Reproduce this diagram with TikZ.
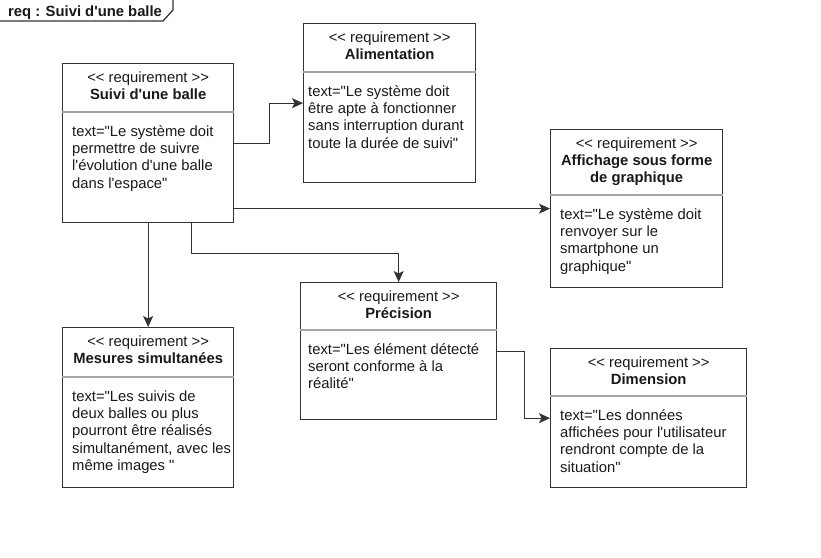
\documentclass[tikz,border=0pt]{standalone}
\usepackage{fontspec}
\usepackage{tikz}
\usetikzlibrary{arrows.meta, positioning, calc}
\newfontfamily\reqfam{Liberation Sans}
\newcommand{\reqfont}{\reqfam\fontsize{14.8}{17.3}\selectfont}
\tikzstyle{reqbox} = [rectangle, draw=black!80, line width=1.3pt, anchor=north west, inner sep=0pt]
\tikzstyle{reqline} = [draw=black!35, line width=1.2pt]
\tikzstyle{reqhead} = [anchor=north, align=center, inner sep=0pt, font=\reqfont, text=black!90]
\tikzstyle{reqbody} = [anchor=north west, align=left, inner sep=0pt, font=\reqfont, text=black!90]
\tikzstyle{arrow} = [draw=black!80, line width=1.3pt, -{Stealth[length=11pt,width=10pt,inset=2.5pt]}]

\begin{document}
\begin{tikzpicture}[x=1pt, y=-1pt]
\useasboundingbox (0,0) rectangle (821,557);

% Frame tab
\coordinate (tabA) at (173,0);
\coordinate (tabB) at (173,10);
\coordinate (tabC) at (163,21);
\coordinate (tabD) at (0,21);
\draw[draw=black!80, line width=1.3pt] (tabA) -- (tabB) -- (tabC) -- (tabD);
\node[anchor=base west, inner sep=0pt, font=\reqfont\bfseries, text=black!90] (frame) at (8,16) {req : Suivi d'une balle};

% Requirements
\node (suivi) [reqbox, minimum width=171pt, minimum height=159pt] at (62,63) {};
\draw[reqline] ($(suivi.north west)+(0,49)$) -- ($(suivi.north east)+(0,49)$);
\node (suivih) [reqhead] at ($(suivi.north)+(0,7)$) {\strut<< requirement >>\\\bfseries Suivi d'une balle};
\node (suivib) [reqbody] at ($(suivi.north west)+(10,61)$) {\strut text="Le système doit\\permettre de suivre\\l'évolution d'une balle\\dans l'espace"};

\node (alim) [reqbox, minimum width=172pt, minimum height=159pt] at (303,23) {};
\draw[reqline] ($(alim.north west)+(0,49)$) -- ($(alim.north east)+(0,49)$);
\node (alimh) [reqhead] at ($(alim.north)+(0,7)$) {\strut<< requirement >>\\\bfseries Alimentation};
\node (alimb) [reqbody] at ($(alim.north west)+(5,61)$) {\strut text="Le système doit\\être apte à fonctionner\\sans interruption durant\\toute la durée de suivi"};

\node (affich) [reqbox, minimum width=172pt, minimum height=158pt] at (550,129) {};
\draw[reqline] ($(affich.north west)+(0,66)$) -- ($(affich.north east)+(0,66)$);
\node (affichh) [reqhead] at ($(affich.north)+(0,7)$) {\strut<< requirement >>\\\bfseries Affichage sous forme\\\bfseries de graphique};
\node (affichb) [reqbody] at ($(affich.north west)+(10,78)$) {\strut text="Le système doit\\renvoyer sur le\\smartphone un\\graphique"};

\node (mesures) [reqbox, minimum width=171pt, minimum height=160pt] at (62,327) {};
\draw[reqline] ($(mesures.north west)+(0,50)$) -- ($(mesures.north east)+(0,50)$);
\node (mesuresh) [reqhead] at ($(mesures.north)+(0,7)$) {\strut<< requirement >>\\\bfseries Mesures simultanées};
\node (mesuresb) [reqbody] at ($(mesures.north west)+(10,62)$) {\strut text="Les suivis de\\deux balles ou plus\\pourront être réalisés\\simultanément, avec les\\même images "};

\node (precision) [reqbox, minimum width=196pt, minimum height=137pt] at (300,282) {};
\draw[reqline] ($(precision.north west)+(0,48)$) -- ($(precision.north east)+(0,48)$);
\node (precisionh) [reqhead] at ($(precision.north)+(0,7)$) {\strut<< requirement >>\\\bfseries Précision};
\node (precisionb) [reqbody] at ($(precision.north west)+(8,60)$) {\strut text="Les élément détecté\\seront conforme à la\\réalité"};

\node (dimension) [reqbox, minimum width=196pt, minimum height=139pt] at (550,348) {};
\draw[reqline] ($(dimension.north west)+(0,48)$) -- ($(dimension.north east)+(0,48)$);
\node (dimensionh) [reqhead] at ($(dimension.north)+(0,7)$) {\strut<< requirement >>\\\bfseries Dimension};
\node (dimensionb) [reqbody] at ($(dimension.north west)+(10,60)$) {\strut text="Les données\\affichées pour l'utilisateur\\rendront compte de la\\situation"};

% Arrows
\draw[arrow] (suivi.east) -- ++(35,0) |- (alim.west);
\draw[arrow] (suivi.east |- affich.west) -- (affich.west);
\draw[arrow] (suivi.south) -- (mesures.north);
\draw[arrow] ($(suivi.south)+(43,0)$) -- ++(0,30) -| (precision.north);
\draw[arrow] (precision.east) -- ++(27,0) |- (dimension.west);

\end{tikzpicture}
\end{document}
